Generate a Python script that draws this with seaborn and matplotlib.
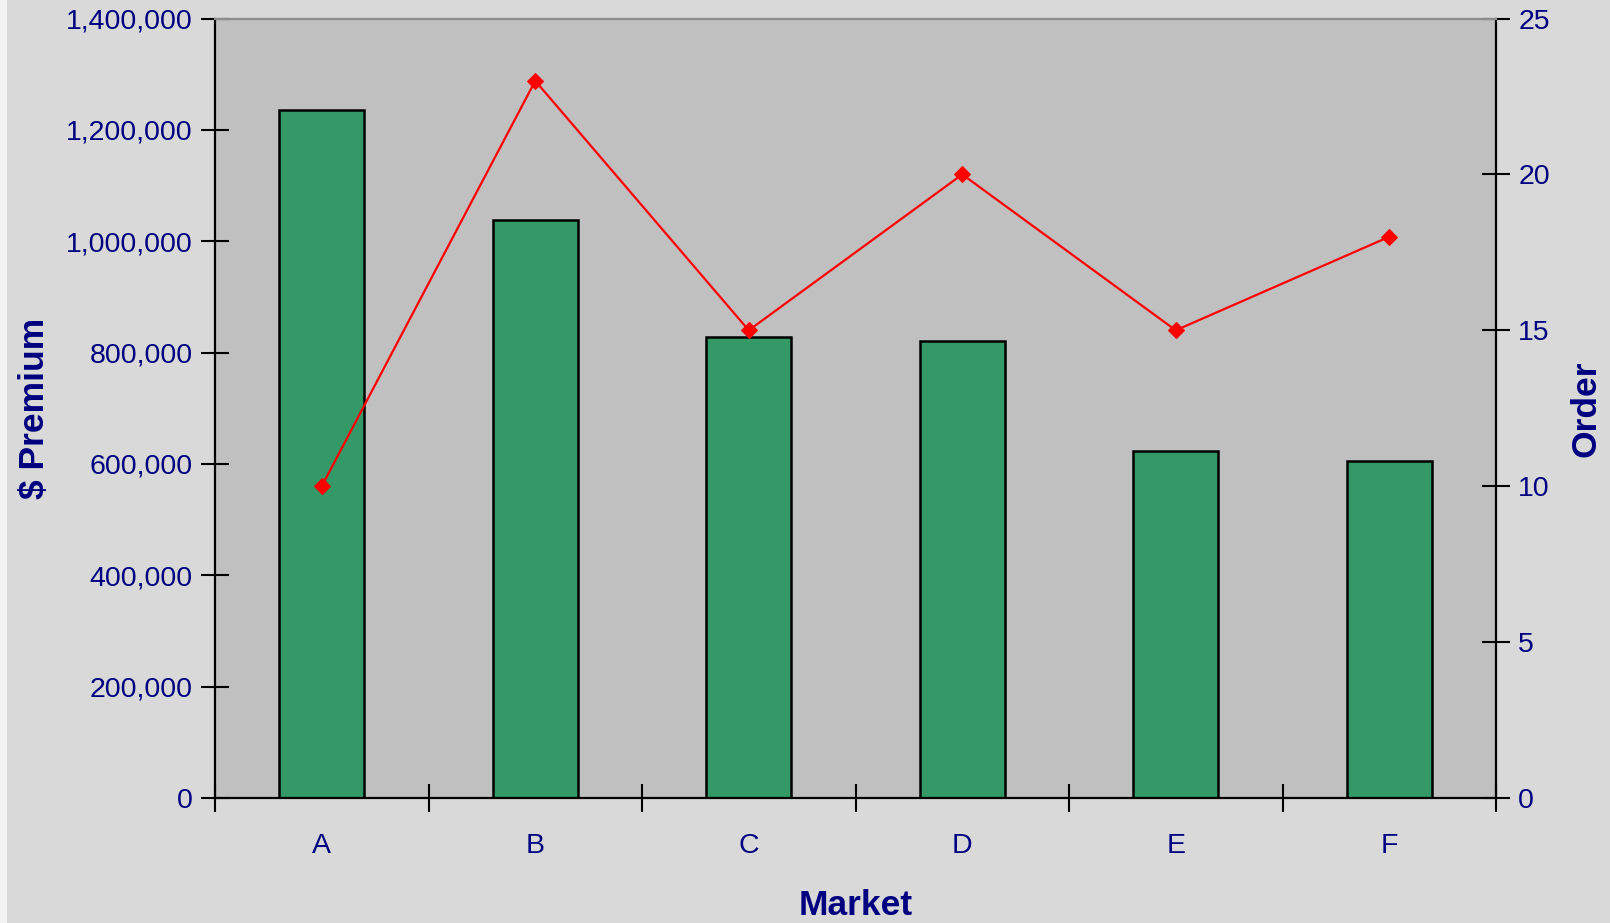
import numpy as np
import pandas as pd
import matplotlib
matplotlib.use("Agg")
import matplotlib.pyplot as plt
from matplotlib.ticker import FuncFormatter, MultipleLocator, FixedLocator
import seaborn as sns

markets = ["A", "B", "C", "D", "E", "F"]
premium = [1235000, 1038000, 828000, 821000, 623000, 605000]
orders = [10, 23, 15, 20, 15, 18]

NAVY = "#000080"
GREEN = "#339966"
PLOT_BG = "#C0C0C0"
FIG_BG = "#D9D9D9"

sns.set_theme(style="white")
plt.rcParams["font.family"] = ["Liberation Sans", "DejaVu Sans"]

fig = plt.figure(figsize=(16.10, 9.23), dpi=100, facecolor=FIG_BG)
ax = fig.add_axes([215 / 1610, 1 - 798 / 923, (1496 - 215) / 1610, (798 - 18.5) / 923])
ax.set_facecolor(PLOT_BG)

# thin light strip along the left edge of the chart area
fig.patches.append(plt.Rectangle((0, 0), 7 / 1610, 1, transform=fig.transFigure,
                                 facecolor="#F2F2F2", edgecolor="none", zorder=0))

df = pd.DataFrame({"Market": markets, "Premium": premium, "Order": orders})

sns.barplot(data=df, x="Market", y="Premium", color=GREEN, width=0.4,
            edgecolor="black", linewidth=1.8, saturation=1, ax=ax)

ax.set_xlim(-0.5, len(markets) - 0.5)
ax.set_ylim(0, 1400000)
ax.yaxis.set_major_locator(MultipleLocator(200000))
ax.yaxis.set_major_formatter(FuncFormatter(lambda v, p: f"{int(v):,}"))

# category labels at centres, tick marks on category boundaries
ax.xaxis.set_major_locator(FixedLocator(np.arange(len(markets))))
ax.set_xticklabels(markets)
ax.xaxis.set_minor_locator(FixedLocator(np.arange(len(markets) + 1) - 0.5))
ax.tick_params(axis="x", which="major", length=0, pad=25, labelsize=20.5, labelcolor=NAVY)
ax.tick_params(axis="x", which="minor", length=20, width=1.5, direction="inout",
               color="black", bottom=True)
ax.tick_params(axis="y", which="major", length=20, width=1.5, direction="inout",
               color="black", left=True, pad=6, labelsize=20.5, labelcolor=NAVY)

ax.set_xlabel("Market", fontsize=25.5, fontweight="bold", color=NAVY, labelpad=22)
ax.set_ylabel("$ Premium", fontsize=25.5, fontweight="bold", color=NAVY, labelpad=11)

ax2 = ax.twinx()
sns.lineplot(x=np.arange(len(markets)), y=orders, color="#FF0000", linewidth=1.6,
             marker="D", markersize=8, markeredgecolor="#FF0000", ax=ax2)
ax2.set_xlim(-0.5, len(markets) - 0.5)
ax2.set_ylim(0, 25)
ax2.yaxis.set_major_locator(MultipleLocator(5))
ax2.tick_params(axis="y", which="major", length=20, width=1.5, direction="inout",
                color="black", right=True, pad=6, labelsize=20.5, labelcolor=NAVY)
ax2.set_ylabel("Order", fontsize=25.5, fontweight="bold", color=NAVY, labelpad=14)

for a in (ax, ax2):
    for s in a.spines.values():
        s.set_visible(False)
ax.spines["left"].set_visible(True)
ax.spines["bottom"].set_visible(True)
ax2.spines["right"].set_visible(True)
ax2.spines["top"].set_visible(True)
for s in ("left", "bottom"):
    ax.spines[s].set_color("black")
    ax.spines[s].set_linewidth(1.6)
ax2.spines["right"].set_color("black")
ax2.spines["right"].set_linewidth(1.6)
ax2.spines["top"].set_color("#8C8C8C")
ax2.spines["top"].set_linewidth(1.6)

fig.savefig("out.png", dpi=100, facecolor=FIG_BG)
